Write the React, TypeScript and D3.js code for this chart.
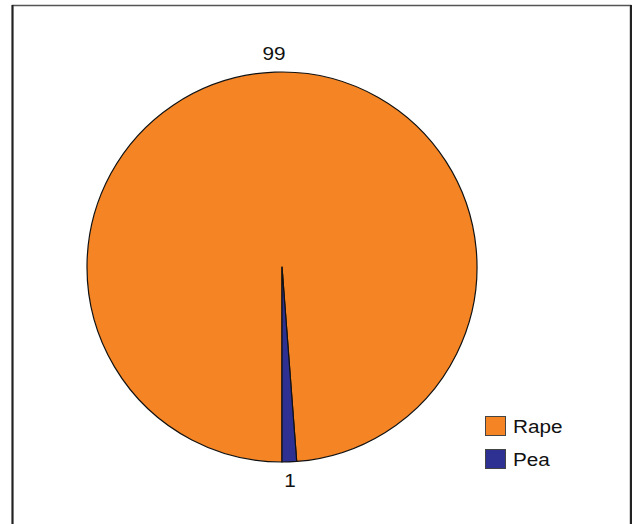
import React from "react";
import * as d3 from "d3";

const categories = ["Rape", "Pea"];
const values = [98.8, 1.2];
const valueLabels = ["99", "1"];
const colors = ["#F58524", "#2E3192"];

export default function App() {
  const W = 633, H = 524;
  const cx = 282, cy = 267, r = 195;
  const pie = d3.pie<number>().sort(null).startAngle(Math.PI).endAngle(3 * Math.PI);
  const arcs = pie(values);
  const arc = d3.arc<d3.PieArcDatum<number>>().innerRadius(0).outerRadius(r);
  const labelR = r + 19;
  return (
    <svg width={W} height={H} style={{ position: "absolute", left: 0, top: 0, fontFamily: "Liberation Sans, Arial, sans-serif" }}>
      <rect x={0} y={0} width={W} height={H} fill="#fff" />
      <rect x={12.5} y={5.5} width={618} height={540} fill="#fff" stroke="#555" strokeWidth={1.5} />
      <line x1={12.5} y1={5} x2={12.5} y2={H} stroke="#222" strokeWidth={2} />
      <line x1={631} y1={5} x2={631} y2={H} stroke="#222" strokeWidth={2} />
      <g transform={`translate(${cx},${cy})`}>
        {arcs.map((a, i) => (
          <path key={categories[i]} d={arc(a) || ""} fill={colors[i]} stroke="#111" strokeWidth={1.2} strokeLinejoin="round" />
        ))}
        {arcs.map((a, i) => {
          const m = (a.startAngle + a.endAngle) / 2;
          const x = Math.sin(m) * labelR;
          const y = -Math.cos(m) * labelR;
          return (
            <text key={"l" + i} transform={`translate(${x},${y}) scale(1.12,1)`} textAnchor="middle" dominantBaseline="central" fontSize={18.5} fill="#111">
              {valueLabels[i]}
            </text>
          );
        })}
      </g>
      {categories.map((c, i) => (
        <g key={"lg" + c} transform={`translate(485,${416 + i * 33})`}>
          <rect x={0.5} y={0.5} width={20} height={19} fill={colors[i]} stroke="#444" strokeWidth={1} />
          <text transform="translate(28,16.8) scale(1.12,1)" fontSize={18.5} fill="#111">{c}</text>
        </g>
      ))}
    </svg>
  );
}
